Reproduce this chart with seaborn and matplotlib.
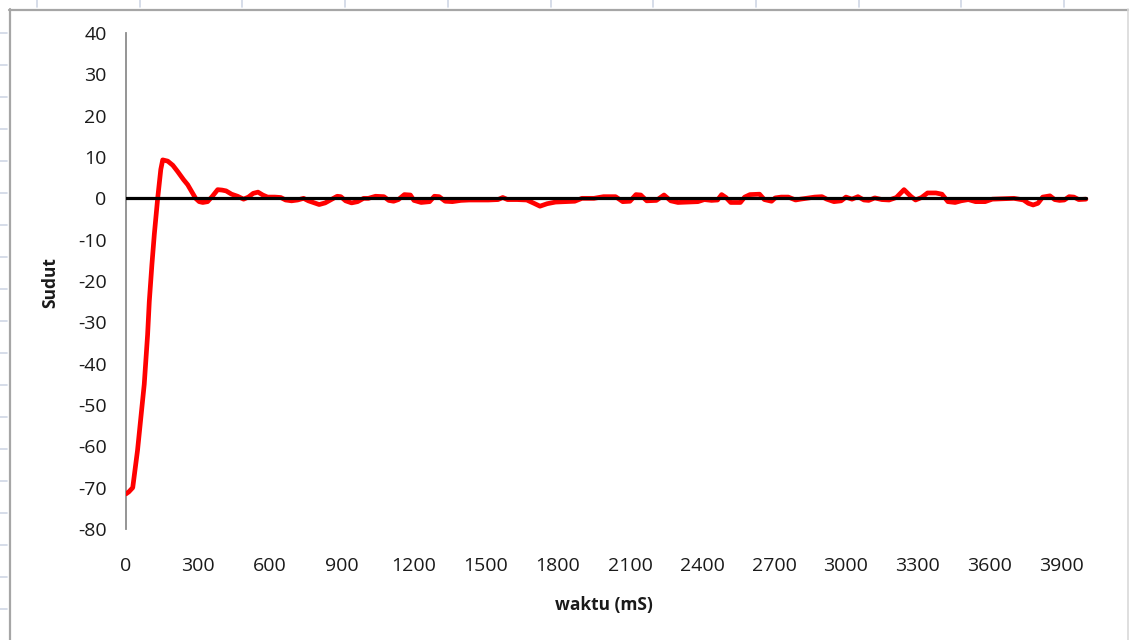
import numpy as np
import pandas as pd
import matplotlib
matplotlib.use("Agg")
import matplotlib.pyplot as plt
from matplotlib.lines import Line2D
import seaborn as sns

# Sample times (ms) and measured angle response
waktu = [0, 12, 28, 48, 62, 76, 90, 97, 108, 118, 132, 145, 153, 174, 195, 215, 240, 257, 275, 290,
         305, 320, 340, 360, 382, 400, 417, 440, 465, 490, 510, 530, 550, 570, 590, 620, 645, 665, 690, 715,
         740, 760, 780, 805, 830, 855, 880, 895, 915, 940, 965, 990, 1010, 1040, 1075, 1095, 1115, 1135, 1160, 1185,
         1200, 1230, 1265, 1285, 1305, 1330, 1360, 1395, 1430, 1470, 1510, 1550, 1570, 1590, 1630, 1670, 1700, 1725, 1755, 1790,
         1830, 1870, 1900, 1950, 1990, 2040, 2070, 2100, 2125, 2145, 2170, 2210, 2242, 2270, 2300, 2340, 2383, 2410, 2440, 2465,
         2482, 2500, 2520, 2560, 2578, 2600, 2640, 2660, 2690, 2705, 2730, 2760, 2790, 2810, 2870, 2900, 2920, 2950, 2980, 3000,
         3025, 3050, 3075, 3095, 3120, 3150, 3180, 3210, 3242, 3270, 3290, 3315, 3340, 3375, 3400, 3425, 3455, 3480, 3510, 3540,
         3580, 3610, 3650, 3700, 3740, 3760, 3780, 3800, 3820, 3850, 3870, 3890, 3910, 3930, 3950, 3970, 4000]
sudut = [-71.5, -71.0, -70.0, -61.0, -53.0, -45.0, -33.0, -25.0, -16.0, -8.7, 0.0, 7.0, 9.3, 9.0, 8.0, 6.5, 4.5, 3.3, 1.5, 0.0,
         -0.8, -1.0, -0.8, 0.5, 2.1, 2.0, 1.8, 1.0, 0.5, -0.2, 0.3, 1.2, 1.5, 0.8, 0.3, 0.3, 0.2, -0.4, -0.6, -0.4,
         0.0, -0.6, -1.0, -1.5, -1.1, -0.3, 0.5, 0.4, -0.6, -1.1, -0.8, 0.0, 0.0, 0.5, 0.4, -0.5, -0.7, -0.3, 0.9, 0.8,
         -0.5, -1.0, -0.8, 0.5, 0.4, -0.7, -0.8, -0.5, -0.4, -0.4, -0.4, -0.3, 0.2, -0.3, -0.3, -0.4, -1.2, -1.9, -1.3, -0.9,
         -0.8, -0.7, 0.0, 0.0, 0.4, 0.4, -0.8, -0.7, 0.9, 0.8, -0.6, -0.5, 0.8, -0.6, -1.0, -0.9, -0.8, -0.3, -0.5, -0.4,
         0.9, 0.2, -1.0, -1.0, 0.3, 0.9, 1.0, -0.3, -0.7, 0.1, 0.3, 0.3, -0.4, -0.2, 0.3, 0.4, -0.2, -0.8, -0.6, 0.3,
         -0.2, 0.4, -0.4, -0.5, 0.1, -0.3, -0.4, 0.2, 2.1, 0.5, -0.4, 0.2, 1.3, 1.3, 1.0, -0.8, -1.0, -0.6, -0.3, -0.8,
         -0.8, -0.2, -0.1, 0.0, -0.4, -1.2, -1.6, -1.2, 0.3, 0.6, -0.3, -0.5, -0.4, 0.4, 0.3, -0.3, -0.2]
setpoint_t = [0, 4000]
setpoint = [0, 0]

x_ticks = [0, 300, 600, 900, 1200, 1500, 1800, 2100, 2400, 2700, 3000, 3300, 3600, 3900]
y_ticks = [40, 30, 20, 10, 0, -10, -20, -30, -40, -50, -60, -70, -80]

response = pd.DataFrame({"waktu": waktu, "sudut": sudut})
reference = pd.DataFrame({"waktu": setpoint_t, "sudut": setpoint})

sns.set_style("white")
plt.rcParams["font.family"] = ["Open Sans", "DejaVu Sans"]
plt.rcParams["axes.unicode_minus"] = False

W, H = 1130, 640
fig = plt.figure(figsize=(W / 100, H / 100), dpi=100)
fig.patch.set_facecolor("white")

# plot area in pixels: left 126, right 1090, top 33, bottom 529
ax = fig.add_axes([126 / W, 1 - 529 / H, (1090 - 126) / W, (529 - 33) / H])

sns.lineplot(data=response, x="waktu", y="sudut", ax=ax, color="#ff0000",
             linewidth=3.4, zorder=3, solid_joinstyle="round", solid_capstyle="round")
sns.lineplot(data=reference, x="waktu", y="sudut", ax=ax, color="black",
             linewidth=2.3, zorder=4)

ax.set_xlim(0, 4017)
ax.set_ylim(-80, 40)
ax.set_xticks(x_ticks)
ax.set_yticks(y_ticks)
ax.tick_params(axis="both", length=0, labelsize=14, colors="#1a1a1a")
ax.tick_params(axis="x", pad=20)
ax.tick_params(axis="y", pad=14)

for side in ["top", "right", "bottom"]:
    ax.spines[side].set_visible(False)
ax.spines["left"].set_color("#8c8c8c")
ax.spines["left"].set_linewidth(1.3)

ax.set_xlabel("waktu (mS)", fontsize=12.5, fontweight="bold", color="#1a1a1a")
ax.set_ylabel("Sudut", fontsize=12.5, fontweight="bold", color="#1a1a1a")
ax.xaxis.set_label_coords((604 - 126) / 964, (529 - 605) / 496)
ax.xaxis.label.set_va("center")
ax.yaxis.set_label_coords((50 - 126) / 964, (529 - 283) / 496)
ax.yaxis.label.set_va("center")

# chart frame and surrounding sheet gridline stubs
def px_line(x0, y0, x1, y1, color, lw):
    fig.add_artist(Line2D([x0 / W, x1 / W], [1 - y0 / H, 1 - y1 / H],
                          transform=fig.transFigure, color=color, linewidth=lw))

px_line(9, 9.5, 1128, 9.5, "#a6a6a6", 1.6)
px_line(9.5, 9, 9.5, 640, "#a6a6a6", 1.6)
px_line(1128, 9, 1128, 640, "#d9d9d9", 1.2)
for k in range(11):
    gx = 37 + 102.7 * k
    px_line(gx, 0, gx, 7, "#d0d7e5", 1.2)
for k in range(19):
    gy = 33 + 32 * k
    px_line(0, gy, 7, gy, "#d0d7e5", 1.2)

fig.savefig("out.png", dpi=100, facecolor="white")
